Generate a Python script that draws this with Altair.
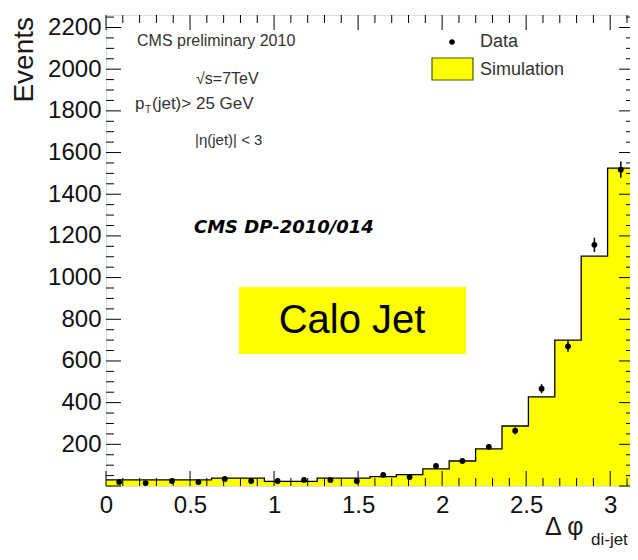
import altair as alt
import numpy as np
import pandas as pd

# ---------------- data ----------------
PI = float(np.pi)
bin_edges = [i * PI / 20 for i in range(21)]
sim_counts = [29, 29, 29, 29, 38, 38, 22, 22, 38, 38, 45, 55, 82, 120, 178, 288, 428, 700, 1103, 1525]
data_counts = [19, 14, 24, 19, 34, 24, 24, 29, 29, 24, 53, 43, 96, 120, 188, 265, 467, 670, 1157, 1518]
x_tick_labels = [0, 0.5, 1, 1.5, 2, 2.5, 3]
y_tick_labels = [200, 400, 600, 800, 1000, 1200, 1400, 1600, 1800, 2000, 2200]
x_minor = [round(0.1 * i, 1) for i in range(1, 32) if i % 5 != 0]
y_minor = [50 * i for i in range(1, 46) if i % 4 != 0]
y_major_ticks = [0] + y_tick_labels

# ---------------- geometry ----------------
W, H = 528, 471
OX, OY = 106, 15   # page position of plot origin (for annotations)

xscale = alt.Scale(domain=[0, PI], nice=False, zero=False)
yscale = alt.Scale(domain=[0, 2260], nice=False, zero=True)
FONT = "Liberation Sans"

xaxis = alt.Axis(values=x_tick_labels, format="~g", title=None, ticks=False, domain=False,
                 grid=False, labelFontSize=24, labelFont=FONT, labelColor="#111",
                 labelPadding=7, labelFlush=False, labelOverlap=False)
yaxis = alt.Axis(values=y_tick_labels, format="d", title=None, ticks=False, domain=False, grid=False,
                 labelFontSize=24, labelFont=FONT, labelColor="#111", labelPadding=5,
                 labelFlush=False, labelOverlap=False)

hist_df = pd.DataFrame({"edge": bin_edges, "count": sim_counts + [sim_counts[-1]]})
area = alt.Chart(hist_df).mark_area(
    interpolate="step-after", color="#FFFF00", opacity=1,
    line={"color": "black", "strokeWidth": 1.3}
).encode(
    x=alt.X("edge:Q", scale=xscale, axis=xaxis),
    y=alt.Y("count:Q", scale=yscale, axis=yaxis),
)

centers = [(bin_edges[i] + bin_edges[i + 1]) / 2 for i in range(20)]
pts_df = pd.DataFrame({
    "c": centers,
    "n": data_counts,
    "lo": [v - np.sqrt(v) for v in data_counts],
    "hi": [v + np.sqrt(v) for v in data_counts],
})
errs = alt.Chart(pts_df).mark_rule(color="black", strokeWidth=1.5).encode(
    x=alt.X("c:Q", scale=xscale, axis=xaxis),
    y=alt.Y("lo:Q", scale=yscale, axis=yaxis),
    y2="hi:Q",
)
pts = alt.Chart(pts_df).mark_circle(size=34, color="black", opacity=1).encode(
    x=alt.X("c:Q", scale=xscale, axis=xaxis),
    y=alt.Y("n:Q", scale=yscale, axis=yaxis),
)


def xticks(vals, L):
    df = pd.DataFrame({"v": vals})
    base = alt.Chart(df).mark_rule(color="black", strokeWidth=1)
    bot = base.encode(x=alt.X("v:Q", scale=xscale, axis=xaxis), y=alt.value(H), y2=alt.value(H - L))
    top = base.encode(x=alt.X("v:Q", scale=xscale, axis=xaxis), y=alt.value(0), y2=alt.value(L))
    return [bot, top]


def yticks(vals, L):
    df = pd.DataFrame({"v": vals})
    base = alt.Chart(df).mark_rule(color="black", strokeWidth=1)
    left = base.encode(y=alt.Y("v:Q", scale=yscale, axis=yaxis), x=alt.value(0), x2=alt.value(L))
    right = base.encode(y=alt.Y("v:Q", scale=yscale, axis=yaxis), x=alt.value(W), x2=alt.value(W - L))
    return [left, right]


tick_layers = xticks(x_tick_labels, 15) + xticks(x_minor, 8) + yticks(y_major_ticks, 15) + yticks(y_minor, 8)

ONE = alt.Data(values=[{}])


def txt(s, px, py, size, align="left", baseline="middle", color="#333", font=FONT, **kw):
    return alt.Chart(ONE).mark_text(
        text=s, fontSize=size, font=font, align=align, baseline=baseline, color=color, **kw
    ).encode(x=alt.value(px - OX), y=alt.value(py - OY))


def rect(x1, y1, x2, y2, **kw):
    return alt.Chart(ONE).mark_rect(**kw).encode(
        x=alt.value(x1 - OX), x2=alt.value(x2 - OX), y=alt.value(y1 - OY), y2=alt.value(y2 - OY)
    )


annotations = [
    rect(239, 287, 466, 354, color="#FFFF00"),
    txt("Calo Jet", 352, 321, 40, align="center", color="black"),
    txt("CMS preliminary 2010", 137, 41, 16),
    txt("\u221as=7TeV", 196, 79, 16),
    txt("p", 135, 104, 17),
    txt("T", 145, 110, 10),
    txt("(jet)> 25 GeV", 152, 104, 17),
    txt("|\u03b7(jet)| < 3", 195, 140, 15),
    txt("CMS DP-2010/014", 194, 228, 18, color="black", font="DejaVu Sans",
        fontWeight="bold", fontStyle="italic"),
    # legend
    alt.Chart(ONE).mark_circle(size=30, color="black", opacity=1).encode(
        x=alt.value(452 - OX), y=alt.value(42 - OY)),
    rect(432, 58, 473, 80, color="#FFFF00", stroke="#555500", strokeWidth=1.2),
    txt("Data", 480, 42, 18),
    txt("Simulation", 480, 70, 18),
    # axis titles
    txt("Events", 33, 17, 28, align="right", baseline="alphabetic", color="#1a1a1a", angle=270),
    txt("\u0394 \u03c6", 545, 535, 25, baseline="alphabetic", color="#1a1a1a"),
    txt("di-jet", 591, 545, 17, baseline="alphabetic", color="#1a1a1a"),
]

chart = alt.layer(area, *tick_layers, errs, pts, *annotations).properties(
    width=W, height=H,
    autosize=alt.AutoSizeParams(type="none"),
    padding={"left": OX - 8, "top": OY - 8, "right": 638 - 8 - OX - W, "bottom": 544 - (OY - 8) - H},
).configure_view(stroke="black", strokeWidth=1.5).configure(background="white")

chart.save("out.html", embed_options={"renderer": "svg", "actions": False})
